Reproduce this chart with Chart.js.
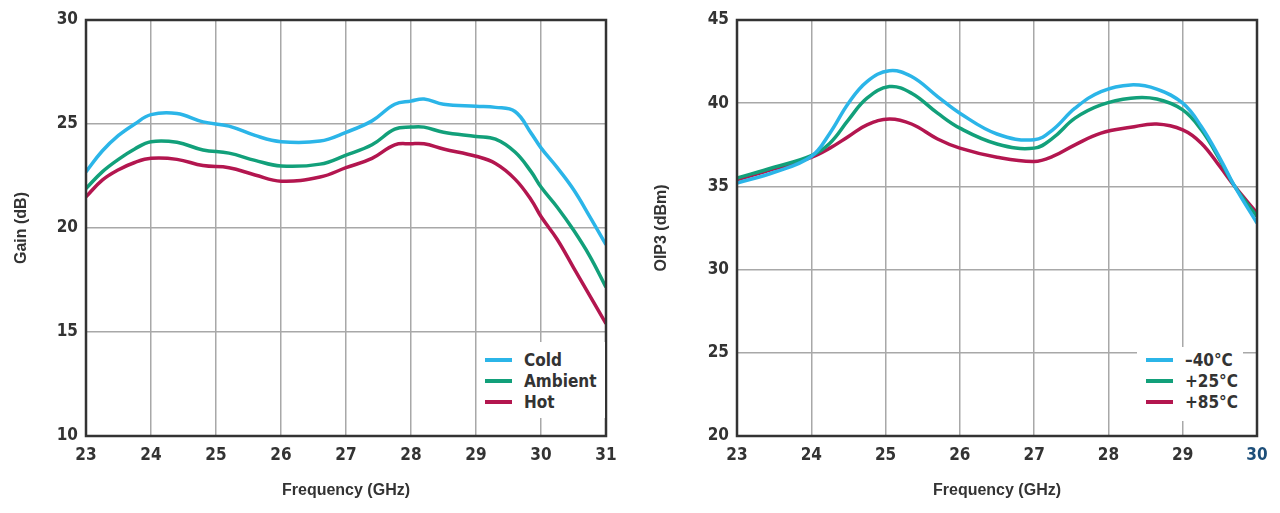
<!DOCTYPE html>
<html>
<head>
<meta charset="utf-8">
<script src="https://cdn.jsdelivr.net/npm/chart.js@4.4.1/dist/chart.umd.min.js"></script>
<style>
  body { margin: 0; background: #fff; width: 1280px; height: 513px; overflow: hidden; }
  .box { position: absolute; top: 0; width: 640px; height: 513px; }
  .legend { position: absolute; background: #fff; font: bold 17px "Liberation Sans Narrow", "DejaVu Sans Condensed", sans-serif; color: #333; }
  .legend div { height: 21px; line-height: 21px; white-space: nowrap; }
  .legend span { display: inline-block; width: 27px; height: 4px; vertical-align: middle; margin-right: 12px; margin-top: -2px; }
</style>
</head>
<body>
<div class="box" style="left:0"><canvas id="gainCanvas" width="640" height="513"></canvas></div>
<div class="box" style="left:640px"><canvas id="oip3Canvas" width="640" height="513"></canvas></div>
<div class="legend" id="gainLegend" style="left:477px; top:342px; width:128px; height:76px; padding-top:8px; box-sizing:border-box; padding-left:8px"></div>
<div class="legend" id="oip3Legend" style="left:1137px; top:347px; width:106px; height:74px; padding-top:3px; box-sizing:border-box; padding-left:9px"></div>
<script>
// Gain vs frequency (left chart)
const gainFreq = [23, 23.25, 23.5, 23.75, 24, 24.4, 24.8, 25.2, 25.6, 26, 26.6, 27, 27.4, 27.75, 28, 28.2, 28.5, 29, 29.3, 29.6, 29.85, 30, 30.25, 30.5, 30.75, 31];
const gainCold = [22.7, 23.7, 24.45, 25.0, 25.45, 25.5, 25.1, 24.9, 24.45, 24.15, 24.18, 24.6, 25.15, 25.95, 26.1, 26.2, 25.95, 25.85, 25.8, 25.6, 24.55, 23.85, 22.9, 21.85, 20.55, 19.2];
const gainAmbient = [21.9, 22.7, 23.3, 23.8, 24.15, 24.12, 23.75, 23.6, 23.25, 22.98, 23.07, 23.5, 24.0, 24.75, 24.85, 24.85, 24.6, 24.4, 24.27, 23.65, 22.7, 21.97, 21.0, 19.9, 18.65, 17.15];
const gainHot = [21.5, 22.3, 22.8, 23.15, 23.35, 23.3, 23.0, 22.9, 22.55, 22.25, 22.45, 22.9, 23.35, 24.0, 24.05, 24.05, 23.8, 23.45, 23.1, 22.35, 21.35, 20.55, 19.45, 18.1, 16.75, 15.4];
const gainLabels = ['Cold', 'Ambient', 'Hot'];

// OIP3 vs frequency (right chart)
const oipFreq = [23, 23.5, 24, 24.25, 24.5, 24.75, 25.05, 25.35, 25.7, 26, 26.5, 27, 27.25, 27.55, 27.9, 28.3, 28.65, 29, 29.25, 29.5, 29.7, 30];
const oipCold = [35.2, 35.85, 36.8, 38.2, 40.0, 41.3, 41.95, 41.6, 40.4, 39.4, 38.15, 37.8, 38.4, 39.7, 40.7, 41.1, 40.85, 40.0, 38.6, 36.7, 35.0, 32.8];
const oipRoom = [35.5, 36.15, 36.85, 37.6, 39.0, 40.3, 41.0, 40.6, 39.4, 38.5, 37.55, 37.3, 37.9, 39.1, 39.9, 40.3, 40.25, 39.6, 38.4, 36.6, 35.0, 33.2];
const oipHot = [35.4, 36.05, 36.75, 37.3, 38.0, 38.7, 39.05, 38.75, 37.85, 37.3, 36.75, 36.5, 36.8, 37.5, 38.2, 38.55, 38.75, 38.4, 37.6, 36.2, 35.0, 33.4];
const oipLabels = ['\u201340\u00B0C', '+25\u00B0C', '+85\u00B0C'];

const lineColors = ['#2bb5e8', '#12a07a', '#b3164f'];
const tickFont = { family: '"Liberation Sans Narrow", "DejaVu Sans Condensed", sans-serif', size: 17, weight: 'bold' };
const titleFont = { family: '"Liberation Sans", Arial, sans-serif', size: 16, weight: 'bold' };

// draws the dark frame around the plot area
const frame = {
    id: 'frame',
    afterDraw(chart) {
        const a = chart.chartArea, c = chart.ctx;
        c.save();
        c.strokeStyle = '#333';
        c.lineWidth = 2.5;
        c.strokeRect(a.left, a.top, a.right - a.left, a.bottom - a.top);
        c.restore();
    }
};

function makeSets(freq, series, labels) {
    return series.map((vals, i) => ({
        label: labels[i],
        data: vals.map((v, k) => ({ x: freq[k], y: v })),
        borderColor: lineColors[i],
        borderWidth: 3.5,
        pointRadius: 0,
        tension: 0.4,
        fill: false
    }));
}

function makeChart(id, sets, xMax, yMin, yMax, yTitle, yWidth, rightPad, lastTickColor) {
    return new Chart(document.getElementById(id), {
        type: 'line',
        data: { datasets: sets },
        plugins: [frame],
        options: {
            responsive: false,
            animation: false,
            layout: { padding: { top: 20, right: rightPad, left: 0, bottom: 0 } },
            plugins: { legend: { display: false }, tooltip: { enabled: false } },
            scales: {
                x: {
                    type: 'linear', min: 23, max: xMax,
                    grid: { color: '#a8a8a8', lineWidth: 1.5, drawTicks: false },
                    border: { display: false },
                    ticks: {
                        stepSize: 1, padding: 9, font: tickFont,
                        color: ctx => (lastTickColor && ctx.tick.value === xMax) ? lastTickColor : '#333'
                    },
                    title: { display: true, text: 'Frequency (GHz)', font: titleFont, color: '#333', padding: { top: 0, bottom: 13 } },
                    afterFit(scale) { scale.height = 77; }
                },
                y: {
                    min: yMin, max: yMax,
                    grid: { color: '#a8a8a8', lineWidth: 1.5, drawTicks: false },
                    border: { display: false },
                    ticks: { stepSize: 5, padding: 8, font: tickFont, color: '#333' },
                    title: { display: true, text: yTitle, font: titleFont, color: '#333', padding: { top: 12, bottom: 0 } },
                    afterFit(scale) { scale.width = yWidth; }
                }
            }
        }
    });
}

makeChart('gainCanvas', makeSets(gainFreq, [gainCold, gainAmbient, gainHot], gainLabels), 31, 10, 30, 'Gain (dB)', 86, 34, null);
makeChart('oip3Canvas', makeSets(oipFreq, [oipCold, oipRoom, oipHot], oipLabels), 30, 20, 45, 'OIP3 (dBm)', 97, 23, '#1d4e79');

function fillLegend(id, labels) {
    document.getElementById(id).innerHTML = labels.map((t, i) =>
        '<div><span style="background:' + lineColors[i] + '"></span>' + t + '</div>').join('');
}
fillLegend('gainLegend', gainLabels);
fillLegend('oip3Legend', oipLabels);
</script>
</body>
</html>
